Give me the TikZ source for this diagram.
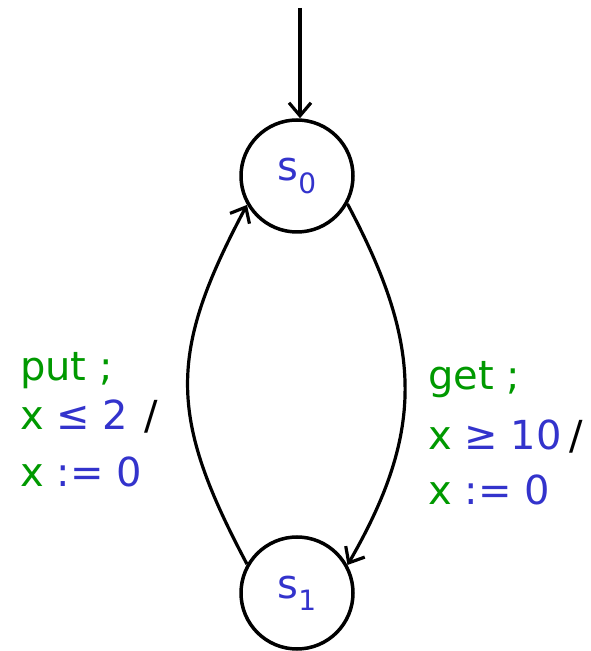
\documentclass[tikz,border=0pt]{standalone}
\usepackage{fontspec}
\setmainfont{DejaVu Sans}
\usepackage{xcolor}
\usetikzlibrary{arrows.meta, positioning}

\begin{document}
\begin{tikzpicture}[x=1pt,y=1pt,
  state/.style={circle, draw, line width=3.5pt, minimum size=112pt, inner sep=0pt,
    text=lblue, font=\fontsize{40}{40}\selectfont},
  trans/.style={line width=3.2pt, -{Straight Barb[length=13pt,width=22pt,line width=3.2pt]}},
  guard/.style={anchor=base west, inner sep=0pt, font=\fontsize{40}{40}\selectfont}]
\definecolor{lgreen}{RGB}{0,153,0}
\definecolor{lblue}{RGB}{51,51,204}
\useasboundingbox (0,0) rectangle (590,651);

% States
\node[state] (s0) at (297,475) {s\textsubscript{0}};
\node[state] (s1) at (297,58) {s\textsubscript{1}};

% Initial arrow
\coordinate (init) at (300,643);
\draw[trans] (init) -- (init |- s0.north);

% Transitions
\draw[trans] (s1.150) to[out=118, in=242, looseness=1.2] (s0.210);
\draw[trans] (s0.331) to[out=-62, in=60, looseness=1.12] (s1.29);

% Labels
\node[guard, text=lgreen] (putA) at (20,270) {put ;};
\node[guard] (putB) at (20,221) {\textcolor{lgreen}{x} \textcolor{lblue}{≤ 2}\hspace{16pt}/};
\node[guard] (putC) at (20,164) {\textcolor{lgreen}{x} \textcolor{lblue}{:= 0}};

\node[guard, text=lgreen] (getA) at (428,261) {get ;};
\node[guard] (getB) at (428,201) {\textcolor{lgreen}{x} \textcolor{lblue}{≥ 10}\hspace{8pt}/};
\node[guard] (getC) at (428,146) {\textcolor{lgreen}{x} \textcolor{lblue}{:= 0}};
\end{tikzpicture}
\end{document}
